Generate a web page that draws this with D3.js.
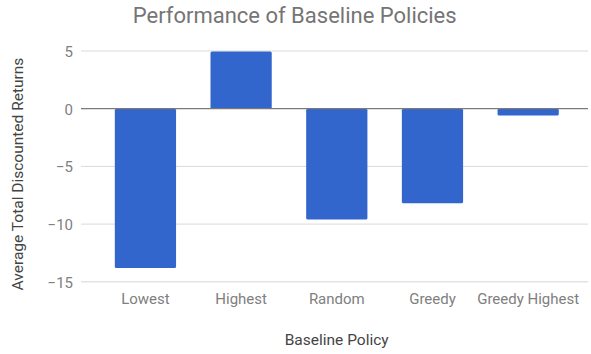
<!DOCTYPE html>
<html><head><meta charset="utf-8">
<script src="https://cdn.jsdelivr.net/npm/d3@7"></script>
<style>body{margin:0;background:#fff}svg{display:block;font-family:Roboto,Arial,sans-serif}</style>
</head><body><svg id="c" width="591" height="354"></svg>
<script>
const categories = ["Lowest","Highest","Random","Greedy","Greedy Highest"];
const values = [-13.8, 4.95, -9.6, -8.2, -0.6];
const yTicks = [5, 0, -5, -10, -15];
const title = "Performance of Baseline Policies";
const xTitle = "Baseline Policy";
const yTitle = "Average Total Discounted Returns";

const svg = d3.select("#c");
const plotL = 81, plotR = 588;
const x = d3.scaleBand().domain(categories).range([97.6, 576]).paddingInner(0.36).paddingOuter(0.18);
const y = d3.scaleLinear().domain([-15, 5]).range([281.8, 51]);

// grid
svg.append("g").selectAll("line").data(yTicks.filter(t => t !== 0 && t !== -15)).join("line")
  .attr("x1", plotL).attr("x2", plotR).attr("y1", d => y(d)).attr("y2", d => y(d))
  .attr("stroke", "#d9d9d9").attr("stroke-width", 1);
svg.append("line").attr("x1", plotL).attr("x2", plotR).attr("y1", y(-15)).attr("y2", y(-15))
  .attr("stroke", "#e3e3e3").attr("stroke-width", 1.5);

// bars
svg.append("g").selectAll("rect").data(values).join("rect")
  .attr("x", (d, i) => x(categories[i]))
  .attr("width", x.bandwidth())
  .attr("y", d => y(Math.max(0, d)))
  .attr("height", d => Math.abs(y(d) - y(0)))
  .attr("rx", 1.5)
  .attr("fill", "#3366cc");

// zero line
svg.append("line").attr("x1", plotL).attr("x2", plotR).attr("y1", y(0)).attr("y2", y(0))
  .attr("stroke", "#7a7a7a").attr("stroke-width", 1.2);

// y axis
const yAxis = d3.axisLeft(y).tickValues(yTicks).tickSize(0).tickPadding(0).tickFormat(d3.format("d"));
const gy = svg.append("g").attr("transform", "translate(73,0)").call(yAxis);
gy.select(".domain").remove();
gy.selectAll("text").attr("fill", "#808080").attr("font-size", 15).attr("font-family", "Roboto").attr("dy", "0.36em");

// x axis
const xAxis = d3.axisBottom(x).tickSize(0).tickPadding(0);
const gx = svg.append("g").attr("transform", "translate(0,293.5)").call(xAxis);
gx.select(".domain").remove();
gx.selectAll("text").attr("fill", "#808080").attr("font-size", 15).attr("font-family", "Roboto").attr("dy", "0.71em");

// titles
svg.append("text").attr("x", 294.7).attr("y", 23).attr("text-anchor", "middle")
  .attr("font-size", 22).attr("fill", "#757575").text(title);
svg.append("text").attr("x", 336.7).attr("y", 345).attr("text-anchor", "middle")
  .attr("font-size", 15.5).attr("fill", "#444").text(xTitle);
svg.append("text").attr("transform", "translate(23,174) rotate(-90)").attr("text-anchor", "middle")
  .attr("font-size", 15.5).attr("fill", "#444").text(yTitle);
</script></body></html>
